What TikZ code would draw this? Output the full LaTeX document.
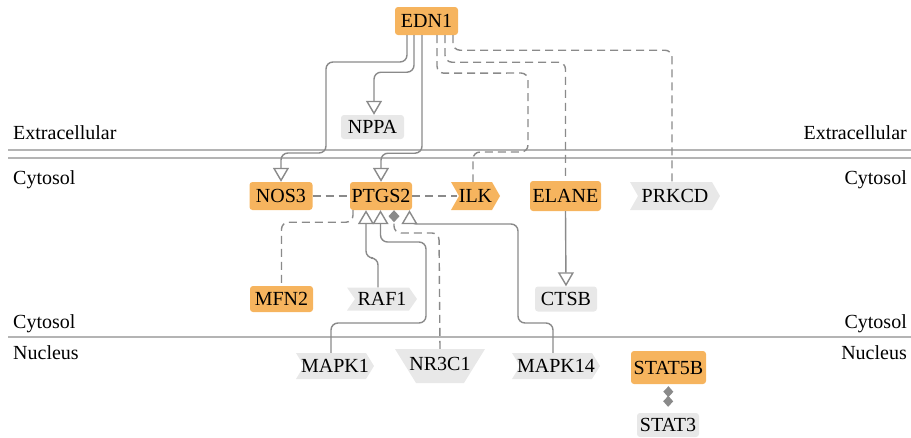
\documentclass[tikz,border=0pt]{standalone}
\usepackage{fontspec}
\setmainfont{Liberation Serif}
\usetikzlibrary{arrows.meta}
\definecolor{orng}{HTML}{F6B45E}
\definecolor{gfill}{HTML}{E8E8E8}
\definecolor{edgec}{HTML}{8A8A8A}
\definecolor{memb}{HTML}{B4B4B4}
\tikzset{
  base/.style={inner sep=0pt, text=black, anchor=center},
  obox/.style={base, fill=orng, rounded corners=3pt},
  gbox/.style={base, fill=gfill, rounded corners=3pt},
  chev/.style={base, path picture={\fill[#1] (path picture bounding box.north west) -- ([xshift=-8pt]path picture bounding box.north east) -- (path picture bounding box.east) -- ([xshift=-8pt]path picture bounding box.south east) -- (path picture bounding box.south west) -- ([xshift=8pt]path picture bounding box.west) -- cycle;}},
  trap/.style={base, path picture={\fill[#1] (path picture bounding box.north west) -- (path picture bounding box.north east) -- ([xshift=-21pt]path picture bounding box.south east) -- ([xshift=21pt]path picture bounding box.south west) -- cycle;}},
  conn/.style={draw=edgec, line width=1.4pt, rounded corners=7pt},
  dconn/.style={conn, dash pattern=on 8pt off 5pt},
  act/.style={-{Triangle[width=16pt 0, length=14pt 0, fill=white, sharp]}},
  bind/.style={-{Diamond[width=11pt 0, length=12pt 0, fill=edgec, sharp]}},
  membrane/.style={draw=memb, line width=2pt},
  lab/.style={inner sep=0pt}
}
\begin{document}
\begin{tikzpicture}[x=1pt, y=-1pt, font=\fontsize{20}{24}\selectfont]
\useasboundingbox (0,0) rectangle (911,437);

% membranes
\draw[membrane] (8,150) -- (911,150);
\draw[membrane] (8,158) -- (911,158);
\draw[membrane] (8,337) -- (911,337);

% compartment labels
\node[lab, anchor=base west] (exL) at (13,139) {Extracellular};
\node[lab, anchor=base east] (exR) at (907,139) {Extracellular};
\node[lab, anchor=base west] (cyL) at (13,184) {Cytosol};
\node[lab, anchor=base east] (cyR) at (907,184) {Cytosol};
\node[lab, anchor=base west] (cy2L) at (13,328) {Cytosol};
\node[lab, anchor=base east] (cy2R) at (907,328) {Cytosol};
\node[lab, anchor=base west] (nuL) at (13,359) {Nucleus};
\node[lab, anchor=base east] (nuR) at (907,359) {Nucleus};

% nodes
\node[obox, minimum width=63pt, minimum height=28pt] (EDN1) at (426.5,21) {EDN1};
\node[gbox, minimum width=63pt, minimum height=24pt] (NPPA) at (372.5,127) {NPPA};
\node[obox, minimum width=63pt, minimum height=28pt] (NOS3) at (281,196) {NOS3};
\node[obox, minimum width=62pt, minimum height=28pt] (PTGS2) at (381,196) {PTGS2};
\node[chev=orng, minimum width=49pt, minimum height=28pt] (ILK) at (475.5,196) {ILK};
\node[obox, minimum width=71pt, minimum height=30pt] (ELANE) at (565.5,196) {ELANE};
\node[chev=gfill, minimum width=90pt, minimum height=28pt] (PRKCD) at (675,196) {PRKCD};
\node[obox, minimum width=63pt, minimum height=26pt] (MFN2) at (281.5,299) {MFN2};
\node[chev=gfill, minimum width=70pt, minimum height=23pt] (RAF1) at (382,299) {RAF1};
\node[gbox, minimum width=62pt, minimum height=25pt] (CTSB) at (566,299) {CTSB};
\node[chev=gfill, minimum width=78pt, minimum height=26pt] (MAPK1) at (335,366) {MAPK1};
\node[trap=gfill, minimum width=90pt, minimum height=34pt] (NR3C1) at (440,366) {\raisebox{4pt}{NR3C1}};
\node[chev=gfill, minimum width=88pt, minimum height=26pt] (MAPK14) at (556,366) {MAPK14};
\node[obox, minimum width=75pt, minimum height=33pt] (STAT5B) at (668.5,367.5) {STAT5B};
\node[gbox, minimum width=62pt, minimum height=24pt] (STAT3) at (668,425) {STAT3};

% EDN1 edges
\draw[conn, act] ([xshift=-19.5pt]EDN1.south) |- (326,62) -- (326,153) -| (NOS3.north);
\draw[conn, act] ([xshift=-12.5pt]EDN1.south) -- ++(0,37) -| ([xshift=1.5pt]NPPA.north);
\draw[conn, act] ([xshift=-4.5pt]EDN1.south) -- ++(0,118) -| (PTGS2.north);
\draw[dconn] ([xshift=10.5pt]EDN1.south) -- ++(0,38) -- (528,73) -- (528,152) -| ([xshift=-2.5pt]ILK.north);
\draw[dconn] ([xshift=18.5pt]EDN1.south) -- ++(0,27) -| (ELANE.north);
\draw[dconn] ([xshift=26.5pt]EDN1.south) -- ++(0,15) -| ([xshift=-3pt]PRKCD.north);

% cytosol edges
\draw[dconn] (NOS3.east) -- (PTGS2.west);
\draw[dconn] (PTGS2.east) -- ([xshift=6pt]ILK.west);
\draw[dconn] ([xshift=-28pt]PTGS2.south) -- ++(0,12) -| (MFN2.north);
\draw[conn, act] ([xshift=-4pt]RAF1.north) -- (378,258) -| ([xshift=-15pt]PTGS2.south);
\draw[conn, act] ([xshift=-4pt]MAPK1.north) -- (331,323) -- (426,323) -- (426,242) -| ([xshift=-0.5pt]PTGS2.south);
\draw[dconn, bind] (NR3C1.north) -- (439,233) -| ([xshift=13pt]PTGS2.south);
\draw[conn, act] ([xshift=-3pt]MAPK14.north) -- (553,323) -- (518,323) -- (518,224) -| ([xshift=28.5pt]PTGS2.south);
\draw[conn, act] (ELANE.south) -- (CTSB.north);

% nucleus
\draw[conn, {Diamond[width=10pt 0, length=11pt 0, fill=edgec, sharp]}-{Diamond[width=10pt 0, length=11pt 0, fill=edgec, sharp]}, shorten <=2pt, shorten >=6pt] (STAT5B.south) -- (STAT3.north);
\end{tikzpicture}
\end{document}
